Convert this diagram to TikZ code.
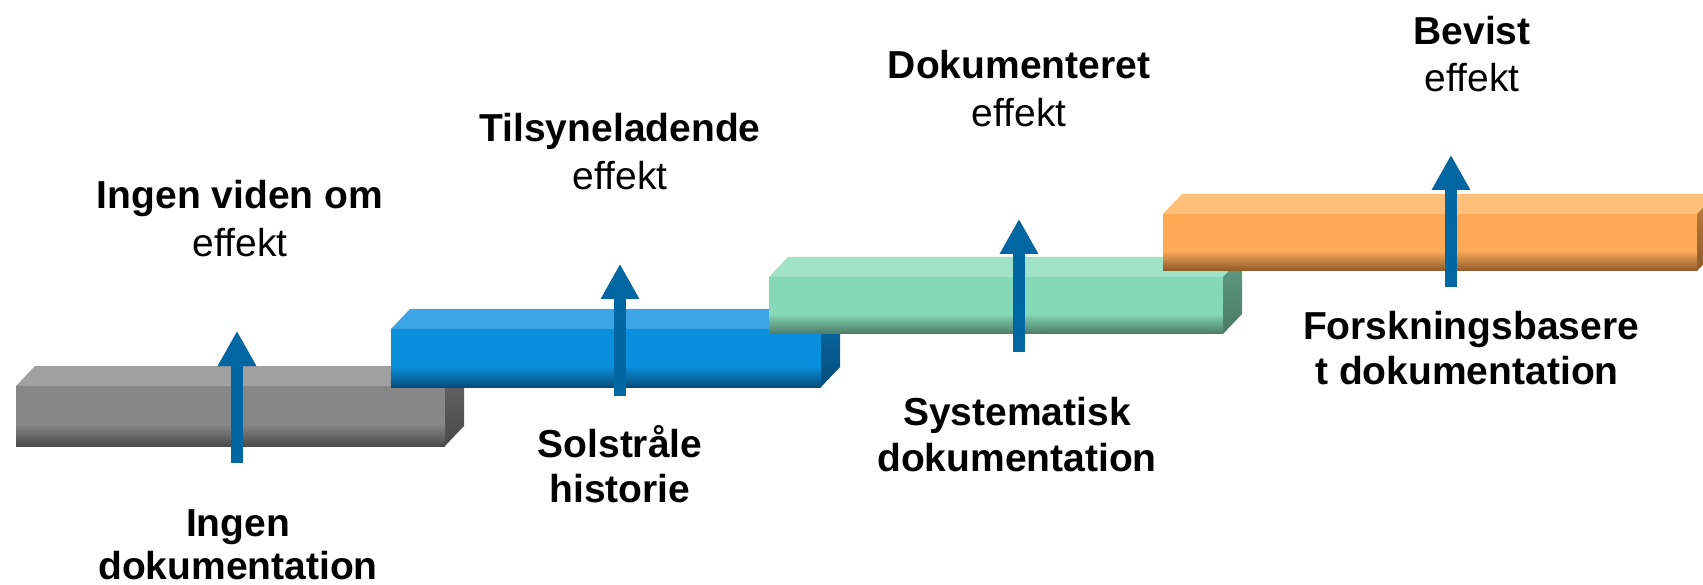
\documentclass[tikz,border=0pt]{standalone}
\usepackage{fontspec}
\setmainfont{Liberation Sans}
\usetikzlibrary{arrows.meta}
\definecolor{graytop}{HTML}{A0A0A0}
\definecolor{grayfront}{HTML}{878787}
\definecolor{graydark}{HTML}{4A4A4A}
\definecolor{grayside}{HTML}{666666}
\definecolor{bluetop}{HTML}{3DA5E3}
\definecolor{bluefront}{HTML}{0A8FDC}
\definecolor{bluedark}{HTML}{054D7C}
\definecolor{blueside}{HTML}{0A6BA8}
\definecolor{greentop}{HTML}{A0E2C8}
\definecolor{greenfront}{HTML}{85D9B7}
\definecolor{greendark}{HTML}{4A7A66}
\definecolor{greenside}{HTML}{5F9C84}
\definecolor{orangetop}{HTML}{FFBE7A}
\definecolor{orangefront}{HTML}{FDAA57}
\definecolor{orangedark}{HTML}{8C5A2A}
\definecolor{orangeside}{HTML}{C4803C}
\definecolor{arrowblue}{HTML}{0067A3}
\newcommand\drawstepblock[5]{%
  \fill[#5top] (#1,#3) -- (#1+19,#3-20) -- (#2+19,#3-20) -- (#2,#3) -- cycle;
  \shade[top color=#5side, bottom color=#5dark] (#2,#3) -- (#2+19,#3-20) -- (#2+19,#4-20) -- (#2,#4) -- cycle;
  \fill[#5front] (#1,#3) rectangle (#2,#4);
  \shade[top color=#5front, bottom color=#5dark] (#1,{#4-0.36*(#4-#3)}) rectangle (#2,#4);
}
\begin{document}
\begin{tikzpicture}[x=1pt,y=-1pt,
  lbl/.style={font=\fontsize{39}{45}\selectfont, anchor=base, inner sep=0pt},
  blbl/.style={lbl, font=\fontsize{39}{45}\selectfont\bfseries},
  bigarrow/.style={line width=12pt, draw=arrowblue, -{Triangle[width=36pt,length=35pt]}},
  arrowshadow/.style={line width=12pt, draw=black, opacity=0.08, -{Triangle[width=36pt,length=35pt]}}]
\useasboundingbox (0,0) rectangle (1703,585);
% blocks
\drawstepblock{16}{445}{386}{446}{gray}
\drawstepblock{391}{821}{329}{387}{blue}
\drawstepblock{769}{1223}{277}{334}{green}
\drawstepblock{1163}{1697}{214}{271}{orange}
% arrow coordinates
\coordinate (a1s) at (237,463); \coordinate (a1t) at (237,331);
\coordinate (a2s) at (620,396); \coordinate (a2t) at (620,264);
\coordinate (a3s) at (1019,352); \coordinate (a3t) at (1019,219);
\coordinate (a4s) at (1451,287); \coordinate (a4t) at (1451,155);
% shadows
\foreach \s in {2,4,6,8,10}{
  \foreach \p in {1,2,3,4}{
    \draw[arrowshadow, shift={(\s,\s)}] (a\p s) -- (a\p t);
  }
}
% arrows
\foreach \p in {1,2,3,4}{
  \draw[bigarrow] (a\p s) -- (a\p t);
}
% labels
\node[blbl] (t1a) at (240,209) {Ingen viden om};
\node[lbl]  (t1b) at (240,257) {effekt};
\node[blbl] (b1a) at (238,536) {Ingen};
\node[blbl] (b1b) at (238,579) {dokumentation};
\node[blbl] (t2a) at (620,142) {Tilsyneladende};
\node[lbl]  (t2b) at (620,190) {effekt};
\node[blbl] (b2a) at (620,457) {Solstråle};
\node[blbl] (b2b) at (620,502) {historie};
\node[blbl] (t3a) at (1019,79) {Dokumenteret};
\node[lbl]  (t3b) at (1019,127) {effekt};
\node[blbl] (b3a) at (1017,425) {Systematisk};
\node[blbl] (b3b) at (1017,471) {dokumentation};
\node[blbl] (t4a) at (1472,45) {Bevist};
\node[lbl]  (t4b) at (1472,92) {effekt};
\node[blbl] (b4a) at (1471,340) {Forskningsbasere};
\node[blbl] (b4b) at (1467,384) {t dokumentation};
\end{tikzpicture}
\end{document}
